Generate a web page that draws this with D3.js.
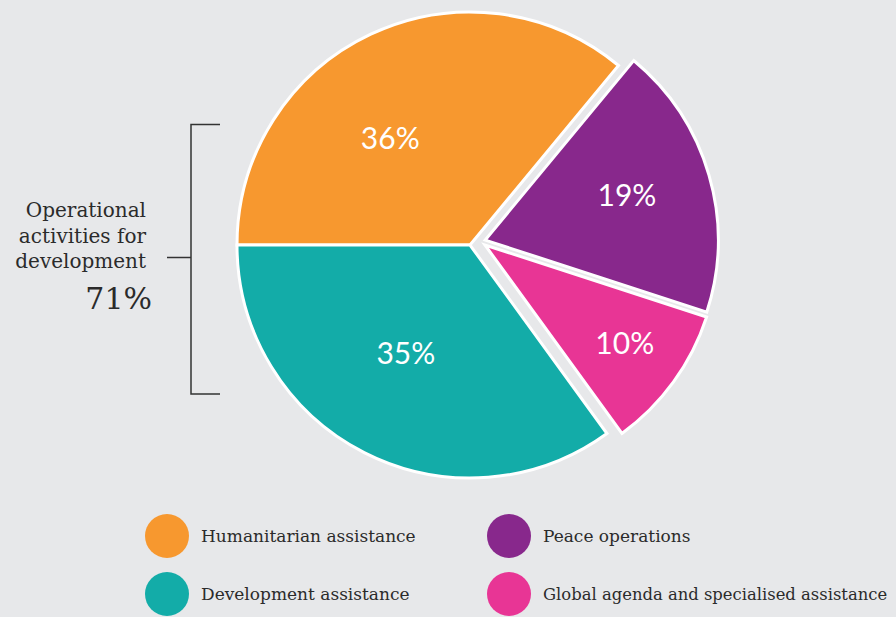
<!DOCTYPE html>
<html>
<head>
<meta charset="utf-8">
<script src="https://cdn.jsdelivr.net/npm/d3@7"></script>
<style>
  html, body { margin: 0; padding: 0; background: #e7e8ea; }
  svg { display: block; }
  .serif { font-family: "DejaVu Serif", "Liberation Serif", serif; fill: #2b2b2b; }
  .pct { font-family: Lato, "Open Sans", sans-serif; fill: #fff; }
</style>
</head>
<body>
<svg id="chart" width="896" height="617"></svg>
<script>
// Shares of system-wide expenditure by function
const categories = ["Humanitarian assistance", "Peace operations", "Global agenda and specialised assistance", "Development assistance"];
const shares = [36, 19, 10, 35];
const colors = ["#f7982f", "#88288c", "#e83595", "#13aca8"];
const groupLabel = ["Operational", "activities for", "development"];
const groupShare = 71;

// Legend reading order: row by row, two columns
const legendOrder = [0, 1, 3, 2];

const svg = d3.select("#chart");
const W = 896, H = 617;
const cx = 470, cy = 245, R = 233;

// Pie starts at 9 o'clock and runs clockwise
const pie = d3.pie().sort(null).value(d => d)
  .startAngle(-Math.PI / 2).endAngle(Math.PI * 1.5);
const arcs = pie(shares);
const arc = d3.arc().innerRadius(0).outerRadius(R);

// Slices pulled out from the centre: [distance, direction in degrees]
const explode = [[0, 0], [16, 72], [15, 90], [0, 0]];
// Label placement in polar coordinates from each slice's apex
const labelPolar = [[134, -36.5], [149, 72], [170, 124.7], [125, 210.9]];

const g = svg.append("g").attr("transform", `translate(${cx},${cy})`);
const polar = (r, deg) => {
  const a = deg * Math.PI / 180;
  return [r * Math.sin(a), -r * Math.cos(a)];
};

const slice = g.selectAll("g.slice").data(arcs).join("g")
  .attr("class", "slice")
  .attr("transform", (d, i) => {
    const [dx, dy] = polar(explode[i][0], explode[i][1]);
    return `translate(${dx},${dy})`;
  });

slice.append("path")
  .attr("d", arc)
  .attr("fill", (d, i) => colors[i])
  .attr("stroke", "#fff")
  .attr("stroke-width", 3)
  .attr("stroke-linejoin", "miter");

slice.append("text")
  .attr("class", "pct")
  .attr("text-anchor", "middle")
  .attr("dominant-baseline", "central")
  .attr("font-size", 30)
  .attr("font-weight", 400)
  .attr("transform", (d, i) => {
    const [x, y] = polar(labelPolar[i][0], labelPolar[i][1]);
    return `translate(${x},${y})`;
  })
  .text(d => d.data + "%");

// Bracket marking the operational-activities group
const br = svg.append("g").attr("stroke", "#333").attr("stroke-width", 1.5).attr("fill", "none");
br.append("path").attr("d", "M220,124.5 H191 V394 H220");
br.append("path").attr("d", "M167,257.5 H191");

const gl = svg.append("g").attr("class", "serif").attr("text-anchor", "end");
groupLabel.forEach((t, i) => {
  gl.append("text").attr("x", 146).attr("y", 217 + i * 25.5)
    .attr("font-size", 20).text(t);
});
gl.append("text").attr("x", 152).attr("y", 309)
  .attr("font-size", 30)
  .text(groupShare + "%");

// Legend
const legend = svg.append("g");
legendOrder.forEach((idx, k) => {
  const col = k % 2, row = Math.floor(k / 2);
  const lx = 167 + col * 342, ly = 536 + row * 58;
  legend.append("circle").attr("cx", lx).attr("cy", ly).attr("r", 22).attr("fill", colors[idx]);
  const t = legend.append("text").attr("class", "serif")
    .attr("x", lx + 34).attr("y", ly + 6)
    .attr("font-size", 17)
    .text(categories[idx]);
  // shrink long entries so they stay inside the right edge
  const avail = W - 8 - (lx + 34);
  const len = t.node().getComputedTextLength();
  if (len > avail) t.attr("font-size", Math.floor(17 * avail / len * 10) / 10);
});
</script>
</body>
</html>
